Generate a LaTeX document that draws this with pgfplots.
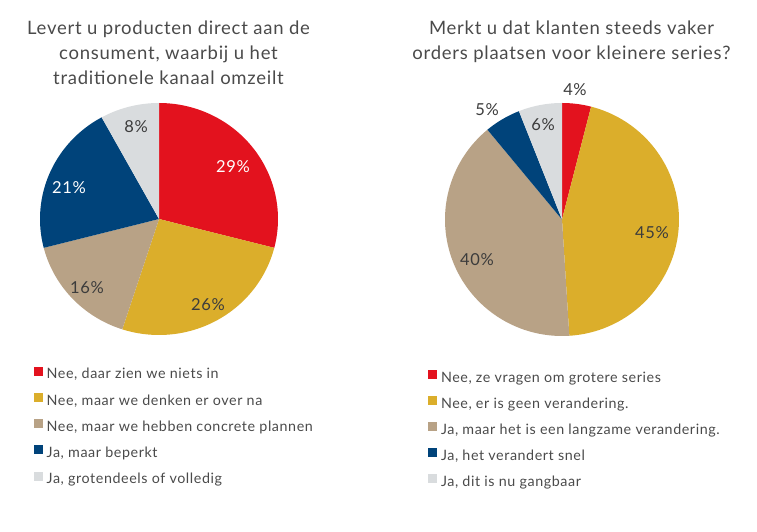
\documentclass[border=0pt]{standalone}
\usepackage{pgfplots}
\pgfplotsset{compat=1.18}
\usepackage{fontspec}
\setmainfont{Lato}[LetterSpace=4]
\definecolor{cRed}{HTML}{E3121E}
\definecolor{cGold}{HTML}{DBAE2B}
\definecolor{cTan}{HTML}{B8A286}
\definecolor{cBlue}{HTML}{00437A}
\definecolor{cGray}{HTML}{D9DCDE}
\definecolor{cText}{HTML}{4A4A4A}
\definecolor{cLbl}{HTML}{3C3C3C}
% slice: from percent, to percent, colour, legend entry
\newcommand{\pieslice}[4]{%
  \addplot[draw=none, fill=#3, domain=90-3.6*#2:90-3.6*#1, samples=90, variable=\t]
    ({cos(\t)},{sin(\t)}) -- (axis cs:0,0) -- cycle;
  \addlegendentry{#4}%
}
\pgfplotsset{
  pie axis/.style={
    hide axis, scale only axis, anchor=center,
    xmin=-1, xmax=1, ymin=-1, ymax=1, clip=false,
    legend cell align=left,
    legend image code/.code={\path[##1] (0pt,0pt) rectangle (9pt,9pt);},
    legend style={anchor=north west, draw=none, fill=none, inner sep=0pt, outer sep=0pt,
      font=\fontsize{14.3}{16}\selectfont, text=cText,
      nodes={inner sep=0pt, text height=10pt, text depth=3.5pt},
      /tikz/every odd column/.style={column sep=3.7pt}},
  },
}
\tikzset{
  lbl/.style={font=\fontsize{16.5}{18}\selectfont, anchor=center, inner sep=0pt},
  ttl/.style={anchor=base, inner sep=0pt, text=cText, font=\fontsize{18.5}{20}\selectfont},
}
\begin{document}
\begin{tikzpicture}
\useasboundingbox (0,0) rectangle (757pt,532pt);
\node[ttl] at (168.5pt,497pt) {Levert u producten direct aan de};
\node[ttl] at (168.5pt,472pt) {consument, waarbij u het};
\node[ttl] at (168.5pt,447.5pt) {traditionele kanaal omzeilt};
\node[ttl] at (571.5pt,497pt) {Merkt u dat klanten steeds vaker};
\node[ttl] at (571.5pt,472pt) {orders plaatsen voor kleinere series?};

\begin{axis}[pie axis, at={(159pt,313pt)}, width=238pt, height=232pt,
  legend style={at={(-0.0252,-0.1366)}, row sep=10.5pt}]
\pieslice{0}{29}{cRed}{Nee, daar zien we niets in}
\pieslice{29}{55}{cGold}{Nee, maar we denken er over na}
\pieslice{55}{71}{cTan}{Nee, maar we hebben concrete plannen}
\pieslice{71}{92}{cBlue}{Ja, maar beperkt}
\pieslice{92}{100}{cGray}{Ja, grotendeels of volledig}
\node[lbl, text=white] at (axis cs:0.622,0.448) {29\%};
\node[lbl, text=cLbl] at (axis cs:0.412,-0.741) {26\%};
\node[lbl, text=cLbl] at (axis cs:-0.605,-0.595) {16\%};
\node[lbl, text=white] at (axis cs:-0.756,0.267) {21\%};
\node[lbl, text=cLbl] at (axis cs:-0.193,0.793) {8\%};
\end{axis}

\begin{axis}[pie axis, at={(562pt,312.5pt)}, width=234pt, height=233pt,
  legend style={at={(-0.0714,-0.148)}, row sep=10.1pt}]
\pieslice{0}{4}{cRed}{Nee, ze vragen om grotere series}
\pieslice{4}{49}{cGold}{Nee, er is geen verandering.}
\pieslice{49}{89}{cTan}{Ja, maar het is een langzame verandering.}
\pieslice{89}{94}{cBlue}{Ja, het verandert snel}
\pieslice{94}{100}{cGray}{Ja, dit is nu gangbaar}
\node[lbl, text=cLbl] at (axis cs:0.111,1.112) {4\%};
\node[lbl, text=cLbl] at (axis cs:0.769,-0.116) {45\%};
\node[lbl, text=cLbl] at (axis cs:-0.726,-0.348) {40\%};
\node[lbl, text=cLbl] at (axis cs:-0.641,0.94) {5\%};
\node[lbl, text=cLbl] at (axis cs:-0.162,0.811) {6\%};
\end{axis}
\end{tikzpicture}
\end{document}
